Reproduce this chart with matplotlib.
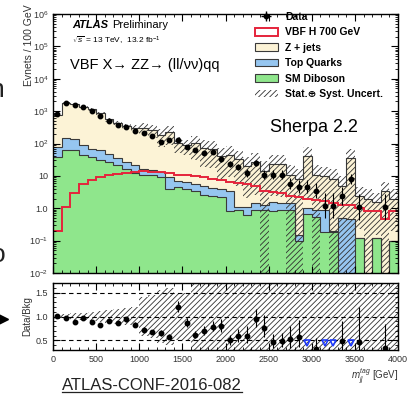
import numpy as np
import matplotlib
matplotlib.use("Agg")
import matplotlib.pyplot as plt
from matplotlib.patches import Patch
from matplotlib.lines import Line2D
from matplotlib.ticker import MultipleLocator, LogLocator, NullFormatter

plt.rcParams['font.family'] = ['Liberation Sans', 'DejaVu Sans']
plt.rcParams['mathtext.fontset'] = 'custom'
plt.rcParams['mathtext.rm'] = 'Liberation Sans'
plt.rcParams['mathtext.it'] = 'Liberation Sans:italic'
plt.rcParams['mathtext.bf'] = 'Liberation Sans:bold'
plt.rcParams['hatch.linewidth'] = 0.6

# m_jj^tag bins, 100 GeV wide
bin_edges = np.arange(0, 4100, 100)

data = [800, 1750, 1500, 1300, 1000, 700, 500, 380, 330, 250,
        215, 175, 115, 125, 125, 76, 62, 52, 54, 33,
        23, 19, 12, 25, 11, 11, 11, 5.8, 4.6, 4.6,
        3.5, 1.2, 1.2, 2.4, 8.2, 1.1, 0, 0, 1.1, 0]
zjets = [710, 1650, 1555, 1250, 1070, 790, 505, 405, 325, 280,
         280, 245, 165, 210, 97, 81, 95, 69, 64, 37,
         42, 31, 19, 25, 13, 22, 21, 9.5, 7.8, 39,
         10, 9, 7.8, 4.5, 34, 2.2, 2.0, 1.4, 3.3, 1.9]
top_quarks = [38, 89, 74, 44, 30, 31, 22, 14, 9.5, 9,
              6, 4.5, 4, 5, 2.5, 2.5, 2, 2.3, 1.9, 1.7,
              2.7, 0.2, 0.5, 0.6, 0.4, 0.8, 0.6, 0.6, 0.05, 0.35,
              0.35, 0.72, 0.02, 0.5, 0.45, 0, 0, 0, 0, 0]
diboson = [38, 61, 61, 43, 38, 30, 26, 21, 16.5, 12,
           10.5, 10.5, 9, 4, 4.5, 3.8, 3.5, 2.6, 2.4, 2.3,
           0.8, 0.9, 0.6, 0.9, 0.9, 0.8, 0.9, 0.9, 0.1, 0.65,
           0.55, 0.18, 0.18, 0, 0, 0.12, 0, 0.12, 0, 0.1]
vbf_h700 = [0.2, 1.1, 2.9, 5.5, 7.5, 9.3, 10.5, 11.5, 12.5, 13.5,
            14, 13.5, 13, 12, 11, 10.5, 10, 9.5, 8, 7.5,
            6.5, 6, 5.5, 4.7, 3.3, 3.2, 3.0, 2.4, 2.2, 1.9,
            1.8, 1.7, 1.5, 1.3, 1.25, 1.0, 0.85, 0.8, 0.45, 0.85]
# relative stat+syst uncertainty on total background
unc_rel = [0.06, 0.06, 0.07, 0.08, 0.1, 0.12, 0.14, 0.16, 0.18, 0.2,
           0.4, 0.45, 0.55, 0.6, 0.5, 0.5, 0.7, 0.75, 0.75, 0.8,
           0.8, 0.85, 0.9, 0.9, 1.0, 0.9, 0.9, 1.0, 1.0, 0.95,
           1.0, 0.9, 1.0, 1.0, 1.0, 0.9, 1.0, 0.9, 1.0, 0.9]

c_z = '#fcf3d6'
c_top = '#96c6f0'
c_dib = '#8fe68c'
c_sig = '#e5243b'
c_line = '#3a3a3a'
c_txt = '#333333'

data = np.array(data, dtype=float)
dib = np.array(diboson, dtype=float)
top = np.array(top_quarks, dtype=float)
zj = np.array(zjets, dtype=float)
rel = np.array(unc_rel)
centers = 0.5 * (bin_edges[1:] + bin_edges[:-1])

floor = 1e-4
s1 = np.maximum(dib, floor)
s2 = np.maximum(dib + top, floor)
total = dib + top + zj

fig = plt.figure(figsize=(4.15, 3.98), dpi=100)
ax = fig.add_axes([53/415, 1-273/398, 345/415, 259/398])
rax = fig.add_axes([53/415, 1-350/398, 345/415, 67/398])

# --- main panel
ax.set_yscale('log')
ax.stairs(s1, bin_edges, baseline=floor, fill=True, color=c_dib)
ax.stairs(s2, bin_edges, baseline=s1, fill=True, color=c_top)
ax.stairs(total, bin_edges, baseline=s2, fill=True, color=c_z)
for arr in (s1, s2, total):
    ax.stairs(arr, bin_edges, baseline=None, color=c_line, lw=0.8)
ax.stairs(total * (1 + rel), bin_edges, baseline=np.maximum(total * (1 - rel), floor),
          fill=True, facecolor='none', edgecolor='#303030', hatch='//////', lw=0)
ax.stairs(vbf_h700, bin_edges, baseline=None, color=c_sig, lw=1.4)

m = data > 0
err_up = np.sqrt(data + 0.25) + 0.5
err_dn = np.sqrt(data + 0.25) - 0.5
ax.errorbar(centers[m], data[m], yerr=[err_dn[m], err_up[m]], fmt='o', ms=3.2,
            color='k', elinewidth=0.8, capsize=0)

ax.set_xlim(0, 4000)
ax.set_ylim(1e-2, 1e6)
ax.xaxis.set_major_locator(MultipleLocator(500))
ax.xaxis.set_minor_locator(MultipleLocator(100))
ax.set_yticks([1e-2, 1e-1, 1, 10, 1e2, 1e3, 1e4, 1e5, 1e6])
ax.set_yticklabels([r'$10^{-2}$', r'$10^{-1}$', '1.0', '10', r'$10^{2}$',
                    r'$10^{3}$', r'$10^{4}$', r'$10^{5}$', r'$10^{6}$'])
ax.yaxis.set_minor_locator(LogLocator(base=10, subs=np.arange(2, 10), numticks=20))
ax.yaxis.set_minor_formatter(NullFormatter())
ax.tick_params(labelbottom=False)

for a in (ax, rax):
    a.tick_params(which='both', direction='in', top=True, right=True,
                  labelsize=6.5, labelcolor=c_txt)
    a.tick_params(which='major', length=5, width=0.8)
    a.tick_params(which='minor', length=2.5, width=0.6)
    for sp in a.spines.values():
        sp.set_linewidth(1.0)

handles = [(Line2D([], [], marker='+', ms=7, mew=1, color='k', ls=''),
            Line2D([], [], marker='o', ms=3.2, color='k', ls='')),
           Patch(facecolor='white', edgecolor=c_sig, lw=1.4),
           Patch(facecolor=c_z, edgecolor=c_line, lw=0.8),
           Patch(facecolor=c_top, edgecolor=c_line, lw=0.8),
           Patch(facecolor=c_dib, edgecolor=c_line, lw=0.8),
           Patch(facecolor='none', edgecolor='#303030', hatch='//////', lw=0)]
labels = ['Data', 'VBF H 700 GeV', 'Z + jets', 'Top Quarks', 'SM Diboson',
          'Stat.⊕ Syst. Uncert.']
ax.legend(handles, labels, loc='upper left', bbox_to_anchor=(255/415, 1-12/398),
          bbox_transform=fig.transFigure, frameon=False, borderpad=0, borderaxespad=0,
          handlelength=2.2, handleheight=0.75, handletextpad=0.7, labelspacing=0.52,
          prop={'weight': 'bold', 'size': 7.5})

fig.text(72/415, 1-25/398, 'ATLAS', weight='bold', style='italic', size=8, va='center')
fig.text(112/415, 1-25/398, 'Preliminary', size=8, va='center')
fig.text(72/415, 1-41/398, r'$\sqrt{s}$ = 13 TeV,  13.2 fb$^{-1}$', size=6, va='center')
fig.text(70/415, 1-65/398, 'VBF X→ ZZ→ (ll/νν)qq', size=10.5, va='center')
fig.text(270/415, 1-128/398, 'Sherpa 2.2', size=13, va='center')
fig.text(29/415, 1-45/398, 'Evnets / 100 GeV', rotation=90, size=7.5,
         color=c_txt, ha='center', va='center')

# --- ratio panel
ratio = np.where(m, data / total, np.nan)
rerr_up = err_up / total
rerr_dn = err_dn / total
r_lo, r_hi = 0.3, 1.7
for yl in (0.5, 1.0, 1.5):
    rax.axhline(yl, ls=(0, (4, 3)), color='k', lw=0.8)
rax.stairs(1 + rel, bin_edges, baseline=np.maximum(1 - rel, 0), fill=True,
           facecolor='none', edgecolor='#303030', hatch='//////', lw=0)
inr = m & (ratio >= r_lo)
rax.errorbar(centers[inr], ratio[inr], yerr=[rerr_dn[inr], rerr_up[inr]], fmt='o', ms=3.2,
             color='k', elinewidth=0.8, capsize=0)
off = m & (ratio < r_lo)
rax.plot(centers[off], np.full(off.sum(), r_lo + 0.15), 'v', mfc='none', mec='#1f3cff',
         mew=1.2, ms=5, ls='')
rax.set_xlim(0, 4000)
rax.set_ylim(r_lo, r_hi)
rax.xaxis.set_major_locator(MultipleLocator(500))
rax.xaxis.set_minor_locator(MultipleLocator(100))
rax.set_yticks([0.5, 1.0, 1.5])
rax.set_yticklabels(['0.5', '1.0', '1.5'])
rax.yaxis.set_minor_locator(MultipleLocator(0.1))
fig.text(27/415, 1-316/398, 'Data/Bkg', rotation=90, size=7, color=c_txt,
         ha='center', va='center')
fig.text(398/415, 1-377/398, r'$m_{jj}^{tag}$ [GeV]', size=7, color=c_txt,
         ha='right', va='center')

# slide leftovers around the plot (cut by the left edge, as in the slide)
fig.text(4/415, 1-97/398, 'n', ha='right', va='baseline', size=19, color='#222222')
fig.text(5/415, 1-262/398, 'o', ha='right', va='baseline', size=19, color='#222222')
fig.add_artist(Line2D([3/415], [1-319/398], marker='>', ms=7, color='k',
                      transform=fig.transFigure))
ref = fig.text(152/415, 1-385/398, 'ATLAS-CONF-2016-082', ha='center', va='center',
               size=12, color='#222222')
fig.canvas.draw()
bb = ref.get_window_extent().transformed(fig.transFigure.inverted())
fig.add_artist(Line2D([bb.x0, bb.x1], [bb.y0 + 0.002] * 2, lw=0.9, color='#222222',
                      transform=fig.transFigure))

fig.savefig('out.png', dpi=100)
